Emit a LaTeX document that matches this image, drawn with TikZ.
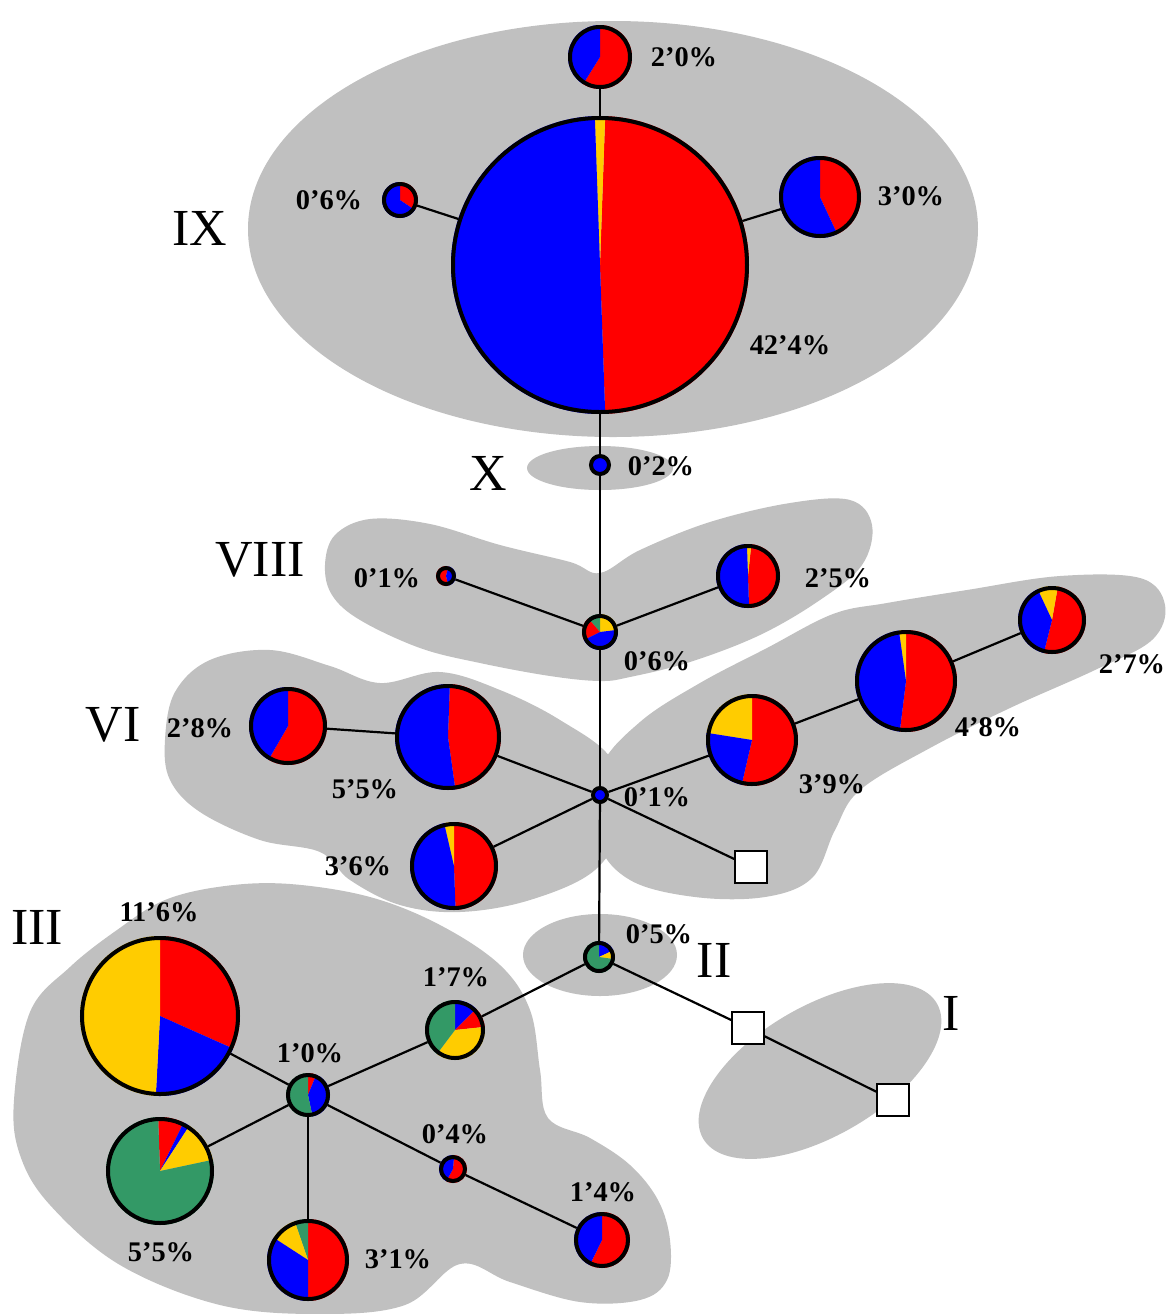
\documentclass[tikz,border=0pt]{standalone}
\usepackage{fontspec}
\setmainfont{Liberation Serif}
\definecolor{pr}{RGB}{255,0,0}
\definecolor{pb}{RGB}{0,0,255}
\definecolor{py}{RGB}{255,204,0}
\definecolor{pg}{RGB}{51,153,102}
\definecolor{rg}{RGB}{192,192,192}
% one pie wedge: colour, centre x, centre y, radius, from angle, to angle (angles counter-clockwise, y axis points down)
\newcommand\slc[6]{\fill[#1] (#2,#3) -- ++({-(#5)}:#4) arc[start angle={-(#5)}, end angle={-(#6)}, radius=#4] -- cycle;}
% outline node of a pie: name, x, y, outer radius
\newcommand\pienode[4]{\node[pie, minimum size={(#4-2)*1pt}] (#1) at (#2,#3) {};}
\begin{document}
\begin{tikzpicture}[x=0.5pt,y=-0.5pt,
  pie/.style={circle, draw=black, line width=2pt, inner sep=0pt},
  sqbox/.style={rectangle, draw=black, fill=white, line width=0.8pt, minimum size=16pt, inner sep=0pt},
  link/.style={draw=black, line width=1.1pt},
  pct/.style={font=\fontsize{14.2}{17}\selectfont\bfseries, inner sep=0pt},
  grp/.style={font=\fontsize{26}{30}\selectfont, inner sep=0pt},
  region/.style={fill=rg}]
\fill[white] (0,0) rectangle (1170,1314);
\useasboundingbox (0,0) rectangle (1170,1314);

% ---- grey groups ----
\fill[region] (613,229) ellipse [x radius=365, y radius=208];
\fill[region] (600,468) ellipse [x radius=73, y radius=22];
\fill[region] plot[smooth cycle, tension=0.6] coordinates {
  (325,565) (335,535) (370,519) (430,524) (500,545) (570,562) (600,573)
  (640,550) (710,522) (790,503) (850,500) (872,525) (862,565) (820,600)
  (760,635) (690,662) (630,677) (600,681) (550,676) (480,663) (420,648)
  (360,620) (332,595)};
\fill[region] plot[smooth cycle, tension=0.6] coordinates {
  (165,740) (175,692) (210,660) (270,650) (330,666) (380,683) (440,672)
  (500,690) (560,720) (612,760) (622,820) (595,870) (530,900) (460,912)
  (400,905) (350,880) (320,852) (260,840) (200,812) (170,780)};
\fill[region] plot[smooth cycle, tension=0.6] coordinates {
  (600,770) (640,722) (700,683) (767,648) (833,614) (887,603) (967,590)
  (1060,576) (1140,578) (1165,605) (1152,640) (1095,670) (1010,708)
  (930,748) (860,790) (835,830) (812,878) (765,897) (695,897) (630,880) (598,840)};
\fill[region] (600,955) ellipse [x radius=77, y radius=41];
\fill[region, rotate around={30:(820,1071)}] (820,1071) ellipse [x radius=135, y radius=65];
\fill[region] plot[smooth cycle, tension=0.6] coordinates {
  (14,1100) (30,1012) (70,967) (117,930) (165,900) (225,886) (290,884)
  (370,897) (440,925) (500,965) (530,1010) (540,1070) (548,1118) (590,1138)
  (630,1165) (658,1200) (670,1240) (667,1280) (640,1300) (580,1302)
  (510,1282) (460,1264) (405,1305) (320,1314) (220,1305) (120,1265)
  (50,1205) (20,1155)};

% ---- pie wedges ----
\slc{pr}{600}{57}{32}{-122}{90}  \slc{pb}{600}{57}{32}{90}{238}
\slc{pr}{600}{265}{149}{-88}{88} \slc{py}{600}{265}{149}{88}{92} \slc{pb}{600}{265}{149}{92}{272}
\slc{pr}{400}{200}{18}{-34}{90}  \slc{pb}{400}{200}{18}{90}{326}
\slc{pr}{820}{197}{41}{-65}{90}  \slc{pb}{820}{197}{41}{90}{295}
\fill[pb] (600,465) circle [radius=10];
\slc{pr}{446}{576}{10}{75}{285}  \slc{pb}{446}{576}{10}{-75}{75}
\slc{py}{600}{632}{18}{7}{90} \slc{pg}{600}{632}{18}{90}{131} \slc{pr}{600}{632}{18}{131}{207} \slc{pb}{600}{632}{18}{207}{367}
\slc{pr}{748}{576}{32}{-88}{84} \slc{py}{748}{576}{32}{84}{92} \slc{pb}{748}{576}{32}{92}{272}
\fill[pb] (600,795) circle [radius=8];
\slc{pr}{448}{737}{53}{-82}{88} \slc{pb}{448}{737}{53}{88}{278}
\slc{pr}{288}{726}{39}{-120}{90} \slc{pb}{288}{726}{39}{90}{240}
\slc{pr}{454}{866}{44}{-88}{90} \slc{py}{454}{866}{44}{90}{103} \slc{pb}{454}{866}{44}{103}{272}
\slc{pr}{752}{740}{46}{-103}{90} \slc{py}{752}{740}{46}{90}{171} \slc{pb}{752}{740}{46}{171}{257}
\slc{pr}{906}{681}{51}{-97}{90} \slc{py}{906}{681}{51}{90}{98} \slc{pb}{906}{681}{51}{98}{263}
\slc{pr}{1052}{620}{34}{-104}{80} \slc{py}{1052}{620}{34}{80}{115} \slc{pb}{1052}{620}{34}{115}{256}
\slc{pb}{599}{957}{16}{25}{90} \slc{py}{599}{957}{16}{-8}{25} \slc{pg}{599}{957}{16}{90}{352}
\slc{pb}{455}{1030}{30}{45}{90} \slc{pr}{455}{1030}{30}{6}{45} \slc{py}{455}{1030}{30}{-127}{6} \slc{pg}{455}{1030}{30}{90}{233}
\slc{pr}{308}{1095}{22}{68}{90} \slc{pb}{308}{1095}{22}{-78}{68} \slc{pg}{308}{1095}{22}{90}{282}
\slc{pr}{453}{1169}{14}{-119}{85} \slc{pb}{453}{1169}{14}{85}{241}
\slc{pr}{160}{1016}{80}{-24}{90} \slc{pb}{160}{1016}{80}{-93}{-24} \slc{py}{160}{1016}{80}{90}{267}
\slc{pr}{160}{1171}{54}{64}{92} \slc{pb}{160}{1171}{54}{57}{64} \slc{py}{160}{1171}{54}{12}{57} \slc{pg}{160}{1171}{54}{92}{372}
\slc{pr}{308}{1260}{41}{-90}{90} \slc{pg}{308}{1260}{41}{90}{109} \slc{py}{308}{1260}{41}{109}{147} \slc{pb}{308}{1260}{41}{147}{270}
\slc{pr}{602}{1240}{28}{-116}{90} \slc{pb}{602}{1240}{28}{90}{244}

% ---- pie outlines ----
\pienode{h20}{600}{57}{32}
\pienode{hIX}{600}{265}{149}
\pienode{h06a}{400}{200}{18}
\pienode{h30}{820}{197}{41}
\pienode{h02}{600}{465}{11}
\pienode{h01a}{446}{576}{10}
\pienode{h06b}{600}{632}{18}
\pienode{h25}{748}{576}{32}
\pienode{h01b}{600}{795}{9}
\pienode{h55a}{448}{737}{53}
\pienode{h28}{288}{726}{39}
\pienode{h36}{454}{866}{44}
\pienode{h39}{752}{740}{46}
\pienode{h48}{906}{681}{51}
\pienode{h27}{1052}{620}{34}
\pienode{h05}{599}{957}{16}
\pienode{h17}{455}{1030}{30}
\pienode{h10}{308}{1095}{22}
\pienode{h04}{453}{1169}{14}
\pienode{h116}{160}{1016}{80}
\pienode{h55b}{160}{1171}{54}
\pienode{h31}{308}{1260}{41}
\pienode{h14}{602}{1240}{28}
\node[sqbox] (sA) at (751,867) {};
\node[sqbox] (sB) at (748,1028) {};
\node[sqbox] (sC) at (893,1100) {};

% ---- connectors ----
\path[link] (h20) -- (hIX);
\path[link] (h06a) -- (hIX);
\path[link] (h30) -- (hIX);
\path[link] (hIX) -- (h02);
\path[link] (h02) -- (h06b);
\path[link] (h06b) -- (h01a);
\path[link] (h06b) -- (h25);
\path[link] (h06b) -- (h01b);
\path[link] (h01b) -- (h55a);
\path[link] (h55a) -- (h28);
\path[link] (h01b) -- (h36);
\path[link] (h01b) -- (h39);
\path[link] (h39) -- (h48);
\path[link] (h48) -- (h27);
\path[link] (h01b) -- (sA);
\path[link] (h01b) -- (h05);
\path[link] (h05) -- (sB);
\path[link] (sB) -- (sC);
\path[link] (h05) -- (h17);
\path[link] (h17) -- (h10);
\path[link] (h10) -- (h116);
\path[link] (h10) -- (h55b);
\path[link] (h10) -- (h31);
\path[link] (h10) -- (h04);
\path[link] (h04) -- (h14);

% ---- percentages ----
\node[pct] (t20) at (684,57) {2’0\%};
\node[pct] (t06a) at (329,200) {0’6\%};
\node[pct] (t30) at (911,196) {3’0\%};
\node[pct] (tIX) at (790,345) {42’4\%};
\node[pct] (t02) at (661,466) {0’2\%};
\node[pct] (t01a) at (387,578) {0’1\%};
\node[pct] (t25) at (838,578) {2’5\%};
\node[pct] (t06b) at (657,661) {0’6\%};
\node[pct] (t28) at (200,728) {2’8\%};
\node[pct] (t55a) at (365,789) {5’5\%};
\node[pct] (t36) at (358,866) {3’6\%};
\node[pct] (t01b) at (657,797) {0’1\%};
\node[pct] (t39) at (832,784) {3’9\%};
\node[pct] (t48) at (988,727) {4’8\%};
\node[pct] (t27) at (1132,664) {2’7\%};
\node[pct] (t05) at (659,934) {0’5\%};
\node[pct] (t116) at (159,912) {11’6\%};
\node[pct] (t17) at (456,977) {1’7\%};
\node[pct] (t10) at (310,1053) {1’0\%};
\node[pct] (t04) at (455,1134) {0’4\%};
\node[pct] (t14) at (603,1192) {1’4\%};
\node[pct] (t55b) at (161,1252) {5’5\%};
\node[pct] (t31) at (398,1259) {3’1\%};

% ---- group numerals ----
\node[grp] (gIX) at (200,228) {IX};
\node[grp] (gX) at (488,473) {X};
\node[grp] (gVIII) at (260,560) {VIII};
\node[grp] (gVI) at (113,725) {VI};
\node[grp] (gIII) at (37,927) {III};
\node[grp] (gII) at (714,960) {II};
\node[grp] (gI) at (951,1013) {I};
\end{tikzpicture}
\end{document}
